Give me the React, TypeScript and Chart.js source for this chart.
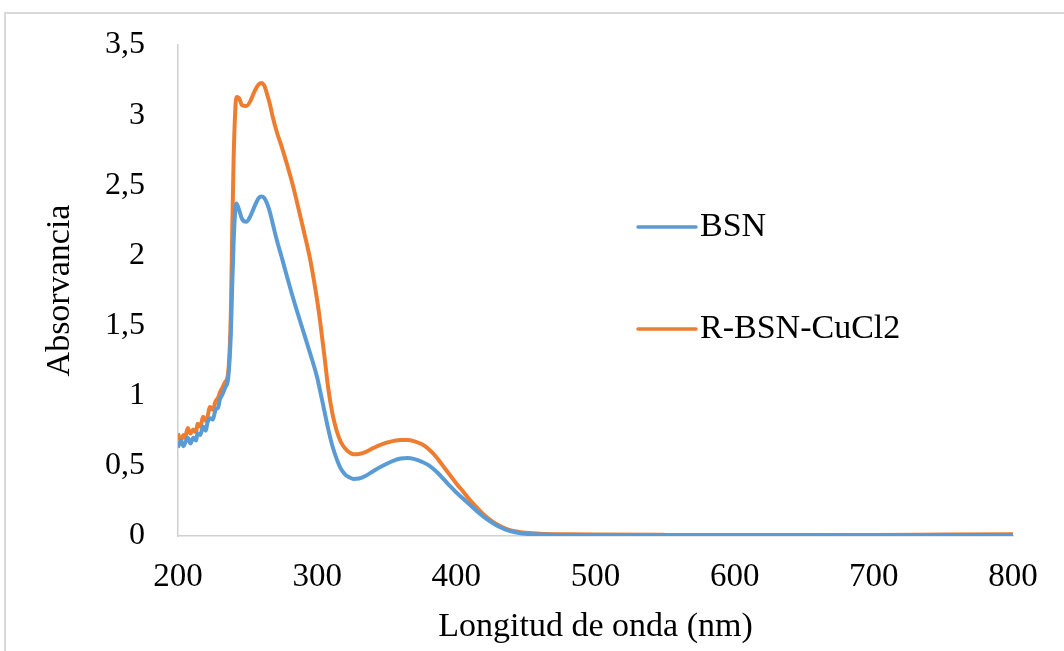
import React, { useEffect, useRef } from "react";
import { Chart, registerables } from "chart.js";

Chart.register(...registerables);

// Wavelength (nm)
const wavelengths = [
  200, 202, 204, 205, 207, 209, 211, 213, 214, 216, 218, 220, 221, 223, 225, 227, 229, 230, 232, 234,
  236, 238, 239, 240, 241, 242, 244, 246, 249, 252, 255, 258, 260, 262, 264, 266, 268, 271, 275, 278,
  282, 285, 290, 295, 300, 302, 305, 308, 311, 314, 317, 320, 323, 326, 330, 335, 340, 345, 350, 355,
  360, 365, 370, 375, 380, 385, 390, 395, 400, 405, 410, 415, 420, 425, 430, 435, 440, 445, 450, 460,
  480, 500, 550, 600, 650, 700, 750, 800,
];

const bsn = [
  0.63, 0.68, 0.64, 0.66, 0.70, 0.66, 0.70, 0.68, 0.73, 0.72, 0.78, 0.75, 0.80, 0.84, 0.83, 0.90, 0.92, 0.97, 1.01, 1.06,
  1.12, 1.45, 1.8, 2.1, 2.3, 2.37, 2.32, 2.26, 2.24, 2.28, 2.35, 2.41, 2.42, 2.41, 2.37, 2.31, 2.23, 2.11, 1.97, 1.86,
  1.72, 1.62, 1.46, 1.30, 1.13, 1.04, 0.90, 0.76, 0.64, 0.55, 0.48, 0.44, 0.418, 0.407, 0.41, 0.43, 0.46, 0.49, 0.515, 0.537,
  0.552, 0.556, 0.548, 0.53, 0.505, 0.465, 0.415, 0.36, 0.31, 0.265, 0.22, 0.175, 0.135, 0.10, 0.07, 0.048, 0.032, 0.022, 0.016, 0.01,
  0.007, 0.005, 0.004, 0.004, 0.004, 0.005, 0.006, 0.008,
];

const rBsnCuCl2 = [
  0.73, 0.68, 0.72, 0.70, 0.77, 0.73, 0.76, 0.74, 0.80, 0.78, 0.85, 0.82, 0.84, 0.92, 0.90, 0.96, 0.99, 1.02, 1.06, 1.10,
  1.16, 1.6, 2.2, 2.7, 3.0, 3.13, 3.12, 3.07, 3.065, 3.1, 3.17, 3.22, 3.23, 3.21, 3.15, 3.08, 2.99, 2.88, 2.76, 2.66,
  2.52, 2.40, 2.19, 1.97, 1.68, 1.54, 1.30, 1.05, 0.87, 0.75, 0.67, 0.625, 0.597, 0.582, 0.584, 0.60, 0.625, 0.648, 0.665, 0.678,
  0.685, 0.685, 0.675, 0.655, 0.62, 0.57, 0.505, 0.44, 0.375, 0.315, 0.255, 0.20, 0.15, 0.11, 0.078, 0.054, 0.038, 0.029, 0.023, 0.016,
  0.012, 0.01, 0.008, 0.007, 0.007, 0.008, 0.01, 0.012,
];

const seriesNames = ["BSN", "R-BSN-CuCl2"];
const seriesColors = ["#5B9BD5", "#ED7D31"];

const xTitle = "Longitud de onda (nm)";
const yTitle = "Absorvancia";

const FONT = "'Liberation Serif', 'Times New Roman', serif";

const legendPlugin = {
  id: "innerLegend",
  afterDraw(chart: any) {
    const { ctx, chartArea } = chart;
    const x0 = chartArea.left + 460;
    const rows = [chartArea.top + 182, chartArea.top + 284];
    ctx.save();
    chart.data.datasets.forEach((ds: any, i: number) => {
      const y = rows[i];
      ctx.strokeStyle = ds.borderColor;
      ctx.lineWidth = 3.5;
      ctx.lineCap = "round";
      ctx.beginPath();
      ctx.moveTo(x0, y);
      ctx.lineTo(x0 + 58, y);
      ctx.stroke();
      ctx.fillStyle = "#000";
      ctx.font = `34px ${FONT}`;
      ctx.textBaseline = "middle";
      ctx.textAlign = "left";
      ctx.fillText(ds.label, x0 + 62, y);
    });
    ctx.restore();
  },
};

export default function App() {
  const ref = useRef<HTMLCanvasElement>(null);

  useEffect(() => {
    if (!ref.current) return;
    const mk = (vals: number[]) => wavelengths.map((x, i) => ({ x, y: vals[i] }));
    const chart = new Chart(ref.current, {
      type: "line",
      data: {
        datasets: [
          {
            label: seriesNames[0],
            data: mk(bsn),
            borderColor: seriesColors[0],
            backgroundColor: seriesColors[0],
            borderWidth: 4,
            pointRadius: 0,
            cubicInterpolationMode: "monotone",
          },
          {
            label: seriesNames[1],
            data: mk(rBsnCuCl2),
            borderColor: seriesColors[1],
            backgroundColor: seriesColors[1],
            borderWidth: 4,
            pointRadius: 0,
            cubicInterpolationMode: "monotone",
          },
        ],
      },
      options: {
        animation: false,
        responsive: false,
        layout: { padding: { top: 45, right: 51, bottom: 0, left: 0 } },
        plugins: {
          legend: { display: false },
          tooltip: { enabled: false },
        },
        scales: {
          x: {
            type: "linear",
            min: 200,
            max: 800,
            grid: { display: false, drawTicks: true, tickLength: 22 },
            border: { display: true, color: "#d0d0d0", width: 1.5 },
            ticks: {
              stepSize: 100,
              padding: 0,
              color: "#000",
              font: { family: FONT, size: 33 },
            },
            title: {
              display: true,
              text: xTitle,
              color: "#000",
              font: { family: FONT, size: 34 },
              padding: { top: 0, bottom: 4 },
            },
            afterFit: (scale: any) => {
              scale.height = 115;
            },
          },
          y: {
            min: 0,
            max: 3.5,
            grid: { display: false, drawTicks: true, tickLength: 33 },
            border: { display: true, color: "#d0d0d0", width: 1.5 },
            ticks: {
              stepSize: 0.5,
              padding: 0,
              color: "#000",
              font: { family: FONT, size: 32 },
              callback: (v: any) => String(Number(v)).replace(".", ","),
            },
            title: {
              display: true,
              text: yTitle,
              color: "#000",
              font: { family: FONT, size: 34 },
              padding: { top: 40, bottom: 0 },
            },
            afterFit: (scale: any) => {
              scale.width = 178;
            },
          },
        },
      },
      plugins: [legendPlugin],
    });
    return () => chart.destroy();
  }, []);

  return (
    <div style={{ position: "fixed", left: 0, top: 0, width: 1064, height: 651, background: "#fff" }}>
      <div
        style={{
          position: "absolute",
          left: 4,
          top: 12,
          right: -10,
          bottom: -10,
          borderLeft: "2px solid #d9d9d9",
          borderTop: "2px solid #d9d9d9",
        }}
      />
      <canvas ref={ref} width={1064} height={651} style={{ position: "absolute", left: 0, top: 0 }} />
    </div>
  );
}
